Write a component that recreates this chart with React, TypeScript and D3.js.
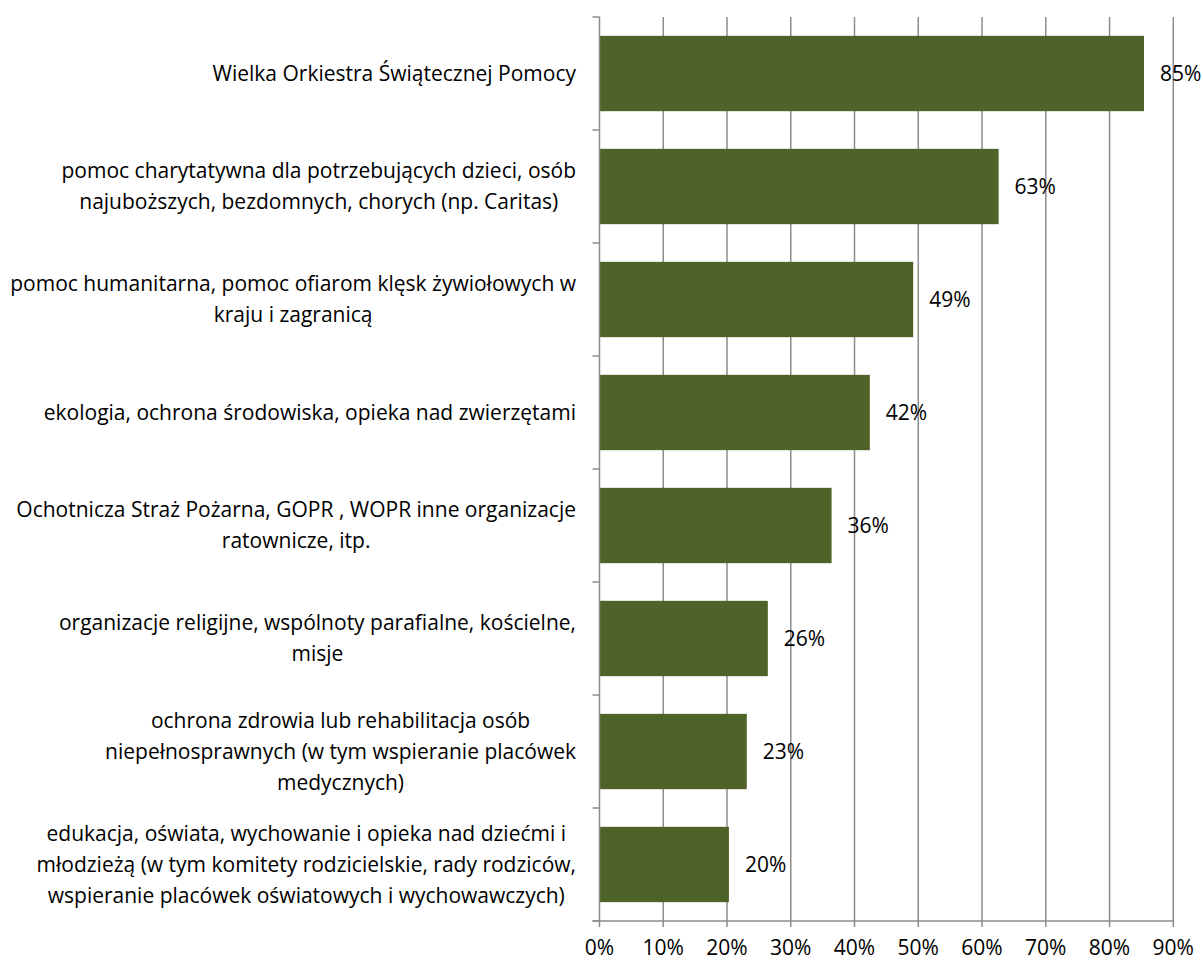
import React, { useEffect, useRef } from "react";
import * as d3 from "d3";

const categories: string[][] = [
  ["Wielka Orkiestra Świątecznej Pomocy"],
  ["pomoc charytatywna dla potrzebujących dzieci, osób", "najuboższych, bezdomnych, chorych (np. Caritas)"],
  ["pomoc humanitarna, pomoc ofiarom klęsk żywiołowych w", "kraju i zagranicą"],
  ["ekologia, ochrona środowiska, opieka nad zwierzętami"],
  ["Ochotnicza Straż Pożarna, GOPR , WOPR inne organizacje", "ratownicze, itp."],
  ["organizacje religijne, wspólnoty parafialne, kościelne,", "misje"],
  ["ochrona zdrowia lub rehabilitacja osób", "niepełnosprawnych (w tym wspieranie placówek", "medycznych)"],
  ["edukacja, oświata, wychowanie i opieka nad dziećmi i", "młodzieżą (w tym komitety rodzicielskie, rady rodziców,", "wspieranie placówek oświatowych i wychowawczych)"],
];
const values: number[] = [0.854, 0.626, 0.492, 0.424, 0.364, 0.264, 0.231, 0.203];
const tickValues: number[] = [0, 0.1, 0.2, 0.3, 0.4, 0.5, 0.6, 0.7, 0.8, 0.9];

const W = 1203;
const H = 962;
const FONT = "'Open Sans', sans-serif";
const FS = 21;
const LINE_H = 31;

export default function App() {
  const ref = useRef<SVGSVGElement>(null);
  useEffect(() => {
    const svg = d3.select(ref.current);
    svg.selectAll("*").remove();
    const left = 599.5, right = 1173.3, top = 17, bottom = 921;
    const x = d3.scaleLinear().domain([0, 0.9]).range([left, right]);
    const ids = categories.map((_, i) => String(i));
    const y = d3.scaleBand().domain(ids).range([top, bottom]).paddingInner(1 / 3).paddingOuter(1 / 6);
    const band = d3.scaleBand().domain(ids).range([top, bottom]);
    const grid = "#8c8c8c";

    // gridlines
    svg.append("g").selectAll("line").data(tickValues.slice(1)).join("line")
      .attr("x1", (d) => x(d)).attr("x2", (d) => x(d))
      .attr("y1", top).attr("y2", bottom + 6)
      .attr("stroke", grid).attr("stroke-width", 1.5);

    // bars
    svg.append("g").selectAll("rect").data(values).join("rect")
      .attr("x", x(0)).attr("y", (_, i) => y(String(i))!)
      .attr("width", (d) => x(d) - x(0)).attr("height", y.bandwidth())
      .attr("fill", "#4f6228");

    // y axis
    svg.append("line").attr("x1", left).attr("x2", left).attr("y1", top).attr("y2", bottom + 6)
      .attr("stroke", grid).attr("stroke-width", 1.5);
    const yt = ids.map((id) => band(id)!).concat([bottom]);
    svg.append("g").selectAll("line").data(yt).join("line")
      .attr("x1", left - 7).attr("x2", left).attr("y1", (d) => d).attr("y2", (d) => d)
      .attr("stroke", grid).attr("stroke-width", 1.5);
    // x axis
    svg.append("line").attr("x1", left - 7).attr("x2", right).attr("y1", bottom).attr("y2", bottom)
      .attr("stroke", grid).attr("stroke-width", 1.5);

    // tick labels
    svg.append("g").selectAll("text").data(tickValues).join("text")
      .attr("x", (d) => x(d)).attr("y", 955)
      .attr("text-anchor", "middle").attr("font-family", FONT).attr("font-size", FS)
      .attr("fill", "#000").text((d) => d3.format(".0%")(d));

    // value labels
    svg.append("g").selectAll("text").data(values).join("text")
      .attr("x", (d) => x(d) + 16).attr("y", (_, i) => band(String(i))! + band.bandwidth() / 2)
      .attr("dy", "0.35em").attr("font-family", FONT).attr("font-size", FS).attr("fill", "#000")
      .text((d) => d3.format(".0%")(d));

    // category labels
    const labelRight = 576;
    categories.forEach((lines, i) => {
      const cy = band(String(i))! + band.bandwidth() / 2;
      const g = svg.append("g");
      const n = lines.length;
      const texts = g.selectAll("text").data(lines).join("text")
        .attr("x", 0).attr("y", (_, k) => cy + (k - (n - 1) / 2) * LINE_H)
        .attr("dy", "0.35em").attr("text-anchor", "middle")
        .attr("font-family", FONT).attr("font-size", FS).attr("fill", "#000")
        .text((d) => d);
      let maxW = 0;
      texts.each(function () {
        maxW = Math.max(maxW, (this as SVGTextElement).getComputedTextLength());
      });
      g.attr("transform", `translate(${labelRight - maxW / 2},0)`);
    });
  }, []);
  return (
    <svg ref={ref} width={W} height={H} style={{ position: "absolute", left: 0, top: 0, background: "#fff" }} />
  );
}
